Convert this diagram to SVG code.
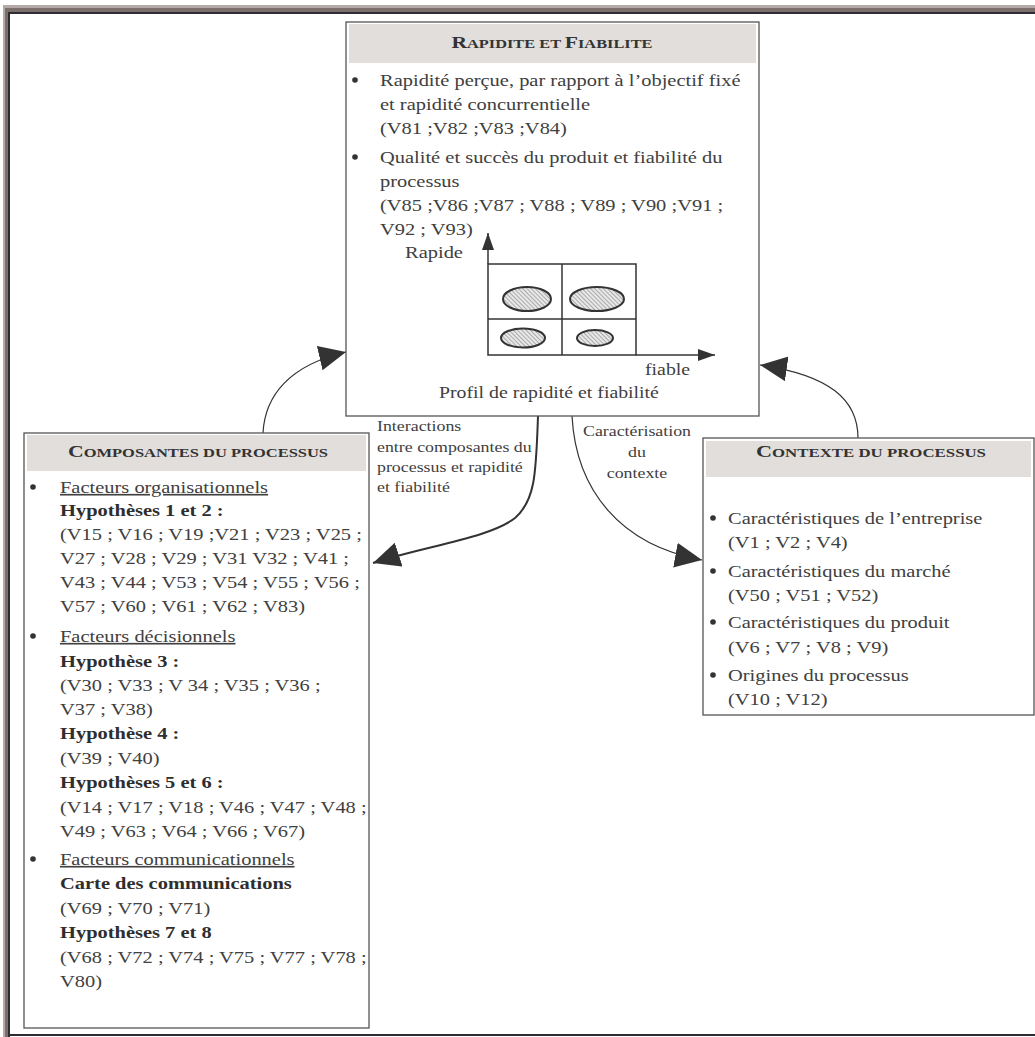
<svg xmlns="http://www.w3.org/2000/svg" width="1035" height="1037" viewBox="0 0 1035 1037">
<style>
.t{font-family:"Liberation Serif","Times New Roman",serif;fill:#404040;font-size:16.5px}
.lab{font-family:"Liberation Serif","Times New Roman",serif;fill:#404040;font-size:14.4px}
.bd{font-weight:bold;fill:#2e2e2e}
.u{text-decoration:underline}
.hd{font-family:"Liberation Serif","Times New Roman",serif;font-weight:bold;fill:#333}
.box{fill:#fff;stroke:#555;stroke-width:1.3}
.band{fill:#e2dedb}
.bul{fill:#333}
.conn{fill:none;stroke:#333;stroke-width:1.2}
.grid{fill:none;stroke:#333;stroke-width:1.5}
.ell{fill:url(#hatch);stroke:#333;stroke-width:2}
</style>
<defs>
<pattern id="hatch" width="3" height="3" patternUnits="userSpaceOnUse" patternTransform="rotate(-45)">
<rect width="3" height="3" fill="#e8e8e8"/>
<line x1="0" y1="0" x2="0" y2="3" stroke="#808080" stroke-width="1.2"/>
</pattern>
<marker id="big" markerUnits="userSpaceOnUse" markerWidth="28" markerHeight="26" refX="27" refY="12.5" orient="auto">
<path d="M0,0 L27,12.5 L0,25 Z" fill="#333"/>
</marker>
<marker id="small" markerUnits="userSpaceOnUse" markerWidth="18" markerHeight="12" refX="17" refY="6" orient="auto">
<path d="M0,0 L17,6 L0,12 Z" fill="#333"/>
</marker>
</defs>
<rect width="1035" height="1037" fill="#fff"/>
<g id="frame">
<rect x="3" y="5" width="1032" height="3" fill="#b3a9a6"/>
<rect x="3" y="8" width="1032" height="4" fill="#7b6f6c"/>
<rect x="3" y="12" width="1032" height="2" fill="#2f2b33"/>
<rect x="3" y="5" width="2" height="1032" fill="#b3a9a6"/>
<rect x="5" y="8" width="3" height="1029" fill="#7b6f6c"/>
<rect x="8" y="12" width="2" height="1025" fill="#2f2b33"/>
<rect x="10" y="1034" width="1025" height="2" fill="#2f2b33"/>
</g>
<g id="connectors">
<path class="conn" d="M263,433 C265,395 290,365 346,352" marker-end="url(#big)"/>
<path class="conn" d="M858,438 C858,400 830,375 760,365" marker-end="url(#big)"/>
<path class="conn" style="stroke-width:2" d="M538,416 C536,470 536,500 515,518 C490,538 425,546 373,563" marker-end="url(#big)"/>
<path class="conn" d="M572,416 C576,490 620,545 702,560" marker-end="url(#big)"/>
<g id="label-interactions" transform="translate(377,0) scale(1.24,1)">
<text class="lab" x="0" y="431">Interactions</text>
<text class="lab" x="0" y="452">entre composantes du</text>
<text class="lab" x="0" y="472">processus et rapidité</text>
<text class="lab" x="0" y="492">et fiabilité</text>
</g>
<g id="label-caracterisation" transform="translate(637,0) scale(1.24,1)" text-anchor="middle">
<text class="lab" x="0" y="436">Caractérisation</text>
<text class="lab" x="0" y="457">du</text>
<text class="lab" x="0" y="478">contexte</text>
</g>
</g>
<g id="rapidite">
<rect class="box" x="346" y="22" width="413" height="394"/>
<rect class="band" x="349" y="24" width="407" height="39"/>
<text class="hd" x="552" y="48" text-anchor="middle" textLength="201" lengthAdjust="spacingAndGlyphs"><tspan font-size="16.5">R</tspan><tspan font-size="12.5">APIDITE ET </tspan><tspan font-size="16.5">F</tspan><tspan font-size="12.5">IABILITE</tspan></text>
<circle class="bul" cx="355" cy="80" r="2.8"/>
<circle class="bul" cx="355" cy="157" r="2.8"/>
<g transform="translate(380,0) scale(1.24,1)">
<text class="t" x="0" y="86">Rapidité perçue, par rapport à l’objectif fixé</text>
<text class="t" x="0" y="110">et rapidité concurrentielle</text>
<text class="t" x="0" y="134">(V81 ;V82 ;V83 ;V84)</text>
<text class="t" x="0" y="163">Qualité et succès du produit et fiabilité du</text>
<text class="t" x="0" y="187">processus</text>
<text class="t" x="0" y="211">(V85 ;V86 ;V87 ; V88 ; V89 ; V90 ;V91 ;</text>
<text class="t" x="0" y="235">V92 ; V93)</text>
</g>
<g transform="translate(405,0) scale(1.24,1)"><text class="t" x="0" y="258">Rapide</text></g>
<g transform="translate(645,0) scale(1.2,1)"><text class="t" x="0" y="375">fiable</text></g>
<g transform="translate(439,0) scale(1.2,1)"><text class="t" x="0" y="398">Profil de rapidité et fiabilité</text></g>
<rect class="grid" x="488" y="264" width="148" height="91"/>
<line class="grid" x1="562" y1="264" x2="562" y2="355"/>
<line class="grid" x1="488" y1="319" x2="636" y2="319"/>
<line class="grid" x1="488" y1="264" x2="488" y2="233" marker-end="url(#small)"/>
<line class="grid" x1="636" y1="355" x2="715" y2="355" marker-end="url(#small)"/>
<ellipse class="ell" cx="527" cy="299" rx="24" ry="12"/>
<ellipse class="ell" cx="597" cy="299" rx="27" ry="12"/>
<ellipse class="ell" cx="523" cy="338" rx="22" ry="9.5"/>
<ellipse class="ell" cx="595" cy="338" rx="18" ry="8"/>
</g>
<g id="composantes">
<rect class="box" x="24" y="433" width="345" height="595"/>
<rect class="band" x="27" y="435" width="339" height="36"/>
<text class="hd" x="198" y="457" text-anchor="middle" textLength="260" lengthAdjust="spacingAndGlyphs"><tspan font-size="16.5">C</tspan><tspan font-size="12.5">OMPOSANTES DU PROCESSUS</tspan></text>
<circle class="bul" cx="33" cy="487" r="2.8"/>
<circle class="bul" cx="33" cy="636" r="2.8"/>
<circle class="bul" cx="33" cy="859" r="2.8"/>
<g transform="translate(60,0) scale(1.24,1)">
<text class="t u" x="0" y="493">Facteurs organisationnels</text>
<text class="t bd" x="0" y="516">Hypothèses 1 et 2 :</text>
<text class="t" x="0" y="540">(V15 ; V16 ; V19 ;V21 ; V23 ; V25 ;</text>
<text class="t" x="0" y="564">V27 ; V28 ; V29 ; V31 V32 ; V41 ;</text>
<text class="t" x="0" y="588">V43 ; V44 ; V53 ; V54 ; V55 ; V56 ;</text>
<text class="t" x="0" y="612">V57 ; V60 ; V61 ; V62 ; V83)</text>
<text class="t u" x="0" y="642">Facteurs décisionnels</text>
<text class="t bd" x="0" y="667">Hypothèse 3 :</text>
<text class="t" x="0" y="691">(V30 ; V33 ; V 34 ; V35 ; V36 ;</text>
<text class="t" x="0" y="715">V37 ; V38)</text>
<text class="t bd" x="0" y="739">Hypothèse 4 :</text>
<text class="t" x="0" y="764">(V39 ; V40)</text>
<text class="t bd" x="0" y="788">Hypothèses 5 et 6 :</text>
<text class="t" x="0" y="813">(V14 ; V17 ; V18 ; V46 ; V47 ; V48 ;</text>
<text class="t" x="0" y="837">V49 ; V63 ; V64 ; V66 ; V67)</text>
<text class="t u" x="0" y="865">Facteurs communicationnels</text>
<text class="t bd" x="0" y="889">Carte des communications</text>
<text class="t" x="0" y="914">(V69 ; V70 ; V71)</text>
<text class="t bd" x="0" y="938">Hypothèses 7 et 8</text>
<text class="t" x="0" y="963">(V68 ; V72 ; V74 ; V75 ; V77 ; V78 ;</text>
<text class="t" x="0" y="987">V80)</text>
</g>
</g>
<g id="contexte">
<rect class="box" x="703" y="438" width="331" height="277"/>
<rect class="band" x="706" y="441" width="325" height="36"/>
<text class="hd" x="871" y="457" text-anchor="middle" textLength="230" lengthAdjust="spacingAndGlyphs"><tspan font-size="16.5">C</tspan><tspan font-size="12.5">ONTEXTE DU PROCESSUS</tspan></text>
<circle class="bul" cx="713" cy="518" r="2.8"/>
<circle class="bul" cx="713" cy="571" r="2.8"/>
<circle class="bul" cx="713" cy="622" r="2.8"/>
<circle class="bul" cx="713" cy="675" r="2.8"/>
<g transform="translate(728,0) scale(1.24,1)">
<text class="t" x="0" y="524">Caractéristiques de l’entreprise</text>
<text class="t" x="0" y="548">(V1 ; V2 ; V4)</text>
<text class="t" x="0" y="577">Caractéristiques du marché</text>
<text class="t" x="0" y="601">(V50 ; V51 ; V52)</text>
<text class="t" x="0" y="628">Caractéristiques du produit</text>
<text class="t" x="0" y="653">(V6 ; V7 ; V8 ; V9)</text>
<text class="t" x="0" y="681">Origines du processus</text>
<text class="t" x="0" y="705">(V10 ; V12)</text>
</g>
</g>
</svg>
